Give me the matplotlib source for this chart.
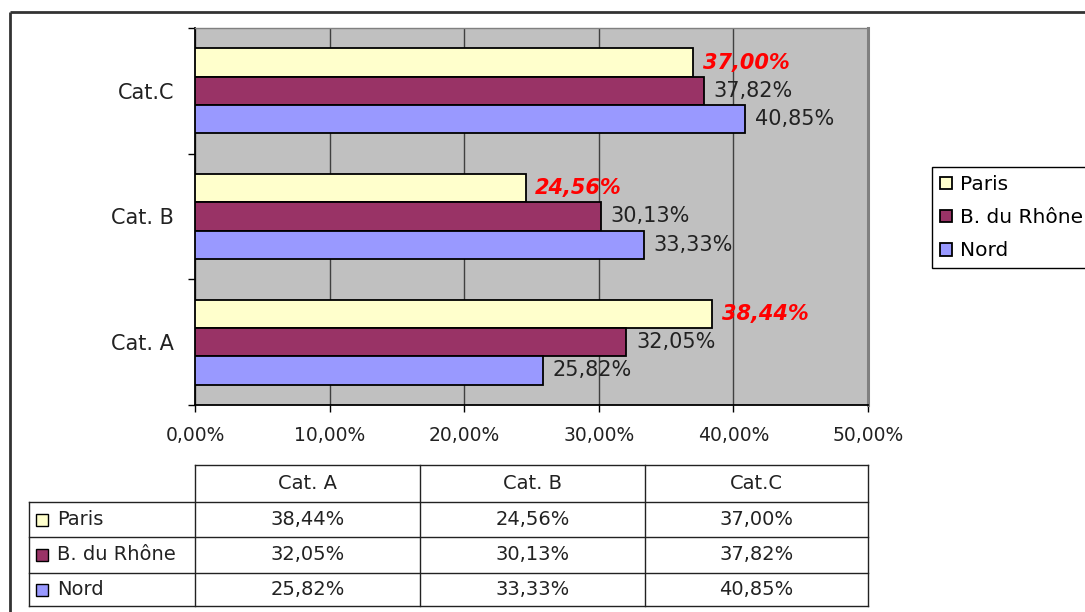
import matplotlib
matplotlib.use('Agg')
import matplotlib.pyplot as plt
from matplotlib.patches import Rectangle
import numpy as np

# data
categories = ['Cat. A', 'Cat. B', 'Cat.C']
series_names = ['Paris', 'B. du Rhône', 'Nord']
paris = [38.44, 24.56, 37.00]
rhone = [32.05, 30.13, 37.82]
nord = [25.82, 33.33, 40.85]
x_ticks = [0, 10, 20, 30, 40, 50]

colors = ['#FFFFCC', '#993366', '#9999FF']


def fr(v):
    # french style percent: 38,44%
    return ('%.2f%%' % v).replace('.', ',')


W, H = 1085, 612
fig = plt.figure(figsize=(W / 100, H / 100), dpi=100)


def px_rect(l, t, r, b):
    return [l / W, 1 - b / H, (r - l) / W, (b - t) / H]


# overlay axes in pixel coords for frame + data table
ov = fig.add_axes([0, 0, 1, 1])
ov.set_xlim(0, W)
ov.set_ylim(H, 0)
ov.axis('off')

ax = fig.add_axes(px_rect(195, 28, 868, 405))
ax.set_facecolor('#C0C0C0')

ypos = np.arange(len(categories))
bh = 0.225
all_series = [paris, rhone, nord]
offsets = [bh, 0, -bh]
bars = []
for vals, off, c, name in zip(all_series, offsets, colors, series_names):
    b = ax.barh(ypos + off, vals, height=bh, color=c, edgecolor='black',
                linewidth=1.3, label=name, zorder=3)
    bars.append(b)

lbl_size = 15
ax.bar_label(bars[0], labels=[fr(v) for v in paris], padding=7, color='#FF0000',
             fontweight='bold', fontstyle='italic', fontsize=lbl_size)
ax.bar_label(bars[1], labels=[fr(v) for v in rhone], padding=7, color='#222222', fontsize=lbl_size)
ax.bar_label(bars[2], labels=[fr(v) for v in nord], padding=7, color='#222222', fontsize=lbl_size)

ax.set_xlim(0, 50)
ax.set_ylim(-0.5, 2.5)
ax.set_axisbelow(True)
ax.xaxis.grid(True, color='#404040', linewidth=1)

ax.set_yticks(ypos)
ax.set_yticklabels(categories, fontsize=15, color='#222222')
ax.set_yticks([-0.5, 0.5, 1.5, 2.5], minor=True)
ax.tick_params(axis='y', which='major', length=0, pad=15)
ax.tick_params(axis='y', which='minor', length=5, width=1, direction='out')

ax.set_xticks(x_ticks)
ax.set_xticklabels([fr(v) for v in x_ticks], fontsize=13.5, color='#222222')
ax.tick_params(axis='x', length=5, width=1, direction='out', pad=10)

ax.spines['left'].set_color('black')
ax.spines['left'].set_linewidth(1.3)
ax.spines['bottom'].set_color('black')
ax.spines['bottom'].set_linewidth(1.3)
ax.spines['top'].set_color('#808080')
ax.spines['top'].set_linewidth(1)
ax.spines['right'].set_color('#808080')
ax.spines['right'].set_linewidth(2.2)

# legend at the right edge
leg = fig.legend(handles=bars, labels=series_names, loc='upper left',
                 bbox_to_anchor=(932 / W, 1 - 167 / H), fontsize=14.5,
                 handlelength=0.6, handleheight=0.6, handletextpad=0.4,
                 labelspacing=0.7, borderpad=0.4, borderaxespad=0,
                 fancybox=False, framealpha=1, edgecolor='black')
leg.get_frame().set_linewidth(1)

# outer chart frame
ov.plot([10, W + 5], [12, 12], color='#333333', lw=2, solid_capstyle='butt')
ov.plot([10, 10], [12, H + 5], color='#333333', lw=2, solid_capstyle='butt')

# data table under the chart
col_x = [195, 420, 645, 868]
row_y = [465, 502, 537, 573, 606]
tcol = '#222222'
tsize = 14
ov.plot([col_x[0], col_x[-1]], [row_y[0], row_y[0]], color=tcol, lw=1)
for y in row_y[1:]:
    ov.plot([29, col_x[-1]], [y, y], color=tcol, lw=1)
ov.plot([29, 29], [row_y[1], row_y[-1]], color=tcol, lw=1)
for x in col_x:
    ov.plot([x, x], [row_y[0], row_y[-1]], color=tcol, lw=1)

for j, cat in enumerate(categories):
    cx = (col_x[j] + col_x[j + 1]) / 2
    ov.text(cx, (row_y[0] + row_y[1]) / 2, cat, ha='center', va='center',
            fontsize=tsize, color='#222222')

for i, (name, vals, c) in enumerate(zip(series_names, all_series, colors)):
    cy = (row_y[i + 1] + row_y[i + 2]) / 2
    ov.add_patch(Rectangle((36, cy - 6), 12, 12, facecolor=c, edgecolor='black', lw=1))
    ov.text(57, cy, name, ha='left', va='center', fontsize=tsize, color='#222222')
    for j, v in enumerate(vals):
        cx = (col_x[j] + col_x[j + 1]) / 2
        ov.text(cx, cy, fr(v), ha='center', va='center', fontsize=tsize, color='#222222')

fig.savefig('out.png', dpi=100)
